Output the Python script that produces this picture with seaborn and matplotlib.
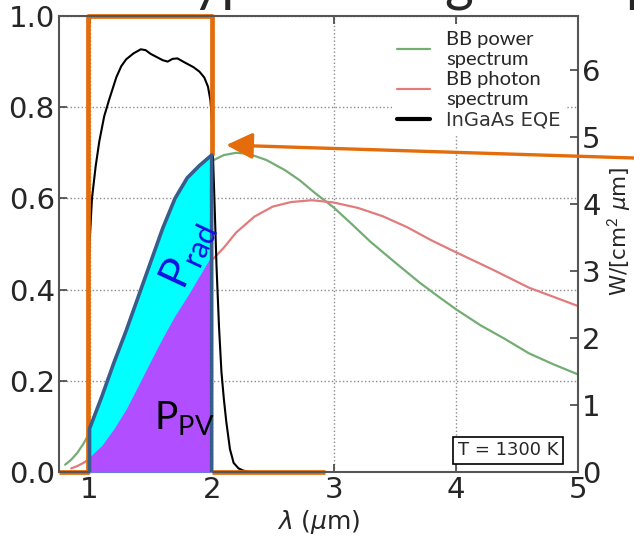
"""Blackbody spectra at 1300 K with InGaAs EQE window (P_rad / P_PV)."""

import matplotlib

matplotlib.use("Agg")
import matplotlib.pyplot as plt
import numpy as np
import seaborn as sns

# ---- data (left-axis units) ----
power_x = [0.80, 0.85, 0.90, 0.95, 1.00, 1.10, 1.20, 1.30, 1.40, 1.50, 1.60, 1.70,
           1.80, 1.90, 2.00, 2.10, 2.20, 2.30, 2.45, 2.60, 2.72, 2.85, 3.00, 3.15,
           3.30, 3.50, 3.70, 3.85, 4.00, 4.20, 4.40, 4.60, 4.80, 5.00]
power_y = [0.016, 0.027, 0.042, 0.062, 0.086, 0.145, 0.218, 0.297, 0.376, 0.452, 0.518, 0.575,
           0.621, 0.655, 0.682, 0.695, 0.700, 0.698, 0.684, 0.662, 0.640, 0.611, 0.580, 0.543,
           0.505, 0.460, 0.416, 0.386, 0.357, 0.322, 0.292, 0.260, 0.236, 0.214]

photon_x = [0.85, 0.90, 0.95, 1.00, 1.10, 1.20, 1.40, 1.60, 1.80, 2.00, 2.10, 2.20, 2.35,
            2.50, 2.65, 2.82, 3.00, 3.20, 3.40, 3.60, 3.80, 4.00, 4.30, 4.60, 5.00]
photon_y = [0.008, 0.013, 0.020, 0.029, 0.055, 0.089, 0.180, 0.283, 0.381, 0.464, 0.492, 0.525, 0.560,
            0.582, 0.592, 0.596, 0.591, 0.579, 0.561, 0.537, 0.508, 0.482, 0.444, 0.404, 0.364]

eqe_x = [0.99, 1.00, 1.02, 1.05, 1.08, 1.12, 1.16, 1.22, 1.26, 1.30, 1.36, 1.42, 1.46, 1.50,
         1.55, 1.60, 1.64, 1.68, 1.72, 1.78, 1.85, 1.90, 1.94, 1.97, 1.99, 2.00, 2.02, 2.04,
         2.06, 2.08, 2.10, 2.12, 2.15, 2.18, 2.22, 2.26, 2.32]
eqe_y = [0.42, 0.50, 0.60, 0.67, 0.725, 0.78, 0.816, 0.866, 0.89, 0.905, 0.918, 0.927, 0.925, 0.917,
         0.910, 0.903, 0.900, 0.906, 0.907, 0.898, 0.888, 0.878, 0.865, 0.845, 0.815, 0.78, 0.62, 0.45,
         0.32, 0.22, 0.16, 0.11, 0.05, 0.02, 0.008, 0.003, 0.0]

band_x = [1.00, 1.10, 1.20, 1.30, 1.40, 1.50, 1.60, 1.70, 1.80, 1.90, 2.00]
rad_top = [0.095, 0.165, 0.240, 0.310, 0.385, 0.460, 0.535, 0.600, 0.645, 0.672, 0.695]
pv_top = [0.033, 0.058, 0.095, 0.138, 0.190, 0.243, 0.295, 0.343, 0.385, 0.430, 0.475]

# bandpass window drawn in orange (NaN splits the two pieces)
filter_x = [0.75, 0.985, 0.985, 2.0, 2.0, np.nan, 2.0, 2.93]
filter_y = [0.0, 0.0, 1.0, 1.0, 0.695, np.nan, 0.0, 0.0]

legend_labels = ["BB power\nspectrum", "BB photon\nspectrum", "InGaAs EQE"]
x_ticks = [1, 2, 3, 4, 5]
left_ticks = [0.0, 0.2, 0.4, 0.6, 0.8, 1.0]
right_ticks = [0, 1, 2, 3, 4, 5, 6]

ORANGE = "#E46C0A"
GREEN = "#74ad74"
RED = "#e27c7c"
CYAN = "#00FFFF"
PURPLE = "#B14EFF"
OUTLINE = "#385D8A"

sns.set_theme(style="white")
plt.rcParams["font.family"] = ["DejaVu Sans"]
plt.rcParams["mathtext.fontset"] = "custom"
plt.rcParams["mathtext.rm"] = "Lato"
plt.rcParams["mathtext.it"] = "DejaVu Sans:italic"
plt.rcParams["mathtext.bf"] = "DejaVu Sans:bold"

fig = plt.figure(figsize=(6.34, 5.40), dpi=100)
ax = fig.add_axes([59 / 634, 68 / 540, 519 / 634, 456 / 540])

sns.lineplot(x=power_x, y=power_y, ax=ax, color=GREEN, lw=1.6, label=legend_labels[0],
             estimator=None, sort=False, zorder=2)
sns.lineplot(x=photon_x, y=photon_y, ax=ax, color=RED, lw=1.6, label=legend_labels[1],
             estimator=None, sort=False, zorder=2)
sns.lineplot(x=eqe_x, y=eqe_y, ax=ax, color="black", lw=1.5, label=legend_labels[2],
             estimator=None, sort=False, zorder=2)

ax.plot(filter_x, filter_y, color=ORANGE, lw=3.4, zorder=2.5, clip_on=False,
        solid_joinstyle="round", solid_capstyle="butt")

# emitted (cyan) and converted (purple) power
ax.fill_between(band_x, 0, rad_top, color=CYAN, lw=0, zorder=3)
ax.fill_between(band_x, 0, pv_top, color=PURPLE, lw=0, zorder=3.1)
ax.plot(np.r_[band_x[0], band_x, band_x[-1]], np.r_[0, rad_top, 0],
        color=OUTLINE, lw=2.6, zorder=3.5, solid_joinstyle="round")

ax.text(1.80, 0.475, r"P$_{\mathrm{rad}}$", color="#1010e0", fontsize=31,
        family="Lato", rotation=65, ha="center", va="center", zorder=5)
ax.text(1.53, 0.092, r"P$_{\mathrm{PV}}$", color="black", fontsize=28,
        family="Lato", ha="left", va="baseline", zorder=5)

ax.text(0.865, 0.048, "T = 1300 K", transform=ax.transAxes, fontsize=13,
        ha="center", va="center", zorder=5,
        bbox=dict(boxstyle="square,pad=0.25", fc="white", ec="black", lw=1.2))

ax.annotate("", xy=(2.12, 0.717), xycoords="data",
            xytext=(1.0, 1 - 158 / 540), textcoords="figure fraction",
            arrowprops=dict(arrowstyle="-|>,head_length=0.8,head_width=0.4",
                            color=ORANGE, lw=2.4, mutation_scale=20,
                            shrinkA=0, shrinkB=0),
            annotation_clip=False, zorder=6)

ax.set_xlim(0.75, 5)
ax.set_ylim(0, 1.0)
ax.set_xticks(x_ticks)
ax.set_yticks(left_ticks)
ax.set_yticklabels([f"{v:.1f}" for v in left_ticks])
ax.grid(True, linestyle=":", color="0.55", lw=1.0)
ax.set_axisbelow(True)
ax.tick_params(direction="in", length=6, width=1.2, color="#444", labelsize=21,
               pad=3, top=True, right=False, bottom=True, left=True)
for s in ax.spines.values():
    s.set_color("#555")
    s.set_linewidth(1.5)
ax.set_xlabel(r"$\lambda$ ($\mu$m)", fontsize=18, labelpad=3)

ax2 = ax.twinx()
ax2.set_ylim(0, 6.806)
ax2.set_yticks(right_ticks)
ax2.grid(False)
ax2.tick_params(direction="in", length=6, width=1.2, color="#444", labelsize=21, pad=3)
for s in ax2.spines.values():
    s.set_visible(False)
ax2.set_ylabel(r"W/[cm$^2$ $\mu$m]", fontsize=15.5)
ax2.yaxis.set_label_coords(1.052, 0.528)

leg = ax.legend(loc="upper right", bbox_to_anchor=(0.995, 1.0), frameon=True,
                facecolor="white", edgecolor="none", framealpha=1.0,
                prop={"family": "Lato", "size": 14.5}, handlelength=1.6,
                handletextpad=0.8, labelspacing=0.15, borderpad=0.25)
leg.set_zorder(4)
leg.get_texts()[2].set_fontfamily("DejaVu Sans")
leg.get_texts()[2].set_fontsize(14)
leg.get_texts()[2].set_color("#333")
leg.get_lines()[2].set_linewidth(3)

fig.text(160 / 634, 1.0, "Typical design of a practical TPV system", fontsize=40,
         family="Lato", ha="left", va="baseline")

fig.savefig("out.png", dpi=100)
plt.close(fig)
